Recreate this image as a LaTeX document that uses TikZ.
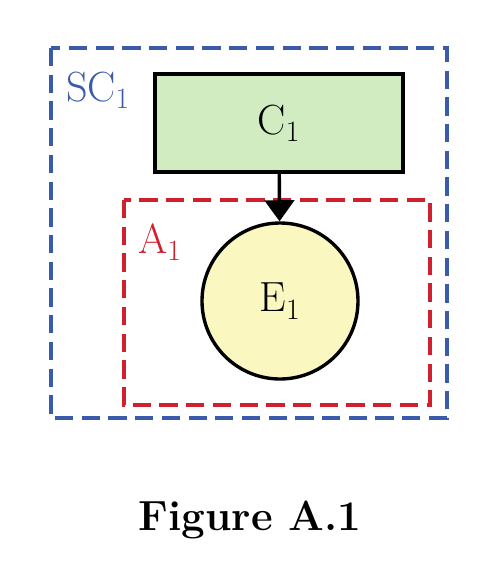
\documentclass[tikz,border=0pt]{standalone}
\usepackage{fontspec}
\usepackage{tikz}
\usetikzlibrary{positioning,arrows.meta}

\definecolor{scblue}{HTML}{3A5BAA}
\definecolor{ared}{HTML}{D0202E}
\definecolor{cgreen}{HTML}{D2ECC2}
\definecolor{eyellow}{HTML}{FAF8C0}

\begin{document}
\begin{tikzpicture}[node distance=1.5cm and 3cm]
            \tikzstyle{bigtext} = [font=\fontsize{30}{34}\selectfont]
            \tikzstyle{group} = [line width=2.4pt, dash pattern=on 13pt off 6pt]
            \tikzstyle{process} = [rectangle, minimum width=6.2cm, minimum height=2.45cm, text centered, draw=black, line width=2.4pt, fill=cgreen, bigtext]
            \tikzstyle{entity} = [circle, minimum size=3.9cm, text centered, draw=black, line width=2.4pt, fill=eyellow, bigtext]
            \tikzstyle{arrow} = [line width=2.4pt,-{Triangle[width=21pt,length=15pt]}]

            \useasboundingbox (0,0) rectangle (12.525,-14.275);

            % Groups
            \draw [group, scblue] (1.275,-1.2) rectangle (11.175,-10.45);
            \draw [group, ared] (3.1,-5.0) rectangle (10.75,-10.125);
            \node (sc1) [bigtext, text=scblue] at (2.45,-2.25) {SC\textsubscript{1}};
            \node (a1) [bigtext, text=ared] at (4.0,-6.05) {A\textsubscript{1}};

            % Nodes
            \node (c1) [process] at (6.975,-3.075) {C\textsubscript{1}};
            \node (e1) [entity] at (7.0,-7.525) {E\textsubscript{1}};

            % Arrows
            \draw [arrow] (c1) -- (e1);

            % Caption
            \node (caption) [font=\fontsize{30}{34}\selectfont\bfseries] at (6.25,-13.0) {Figure A.1};
        \end{tikzpicture}
\end{document}
